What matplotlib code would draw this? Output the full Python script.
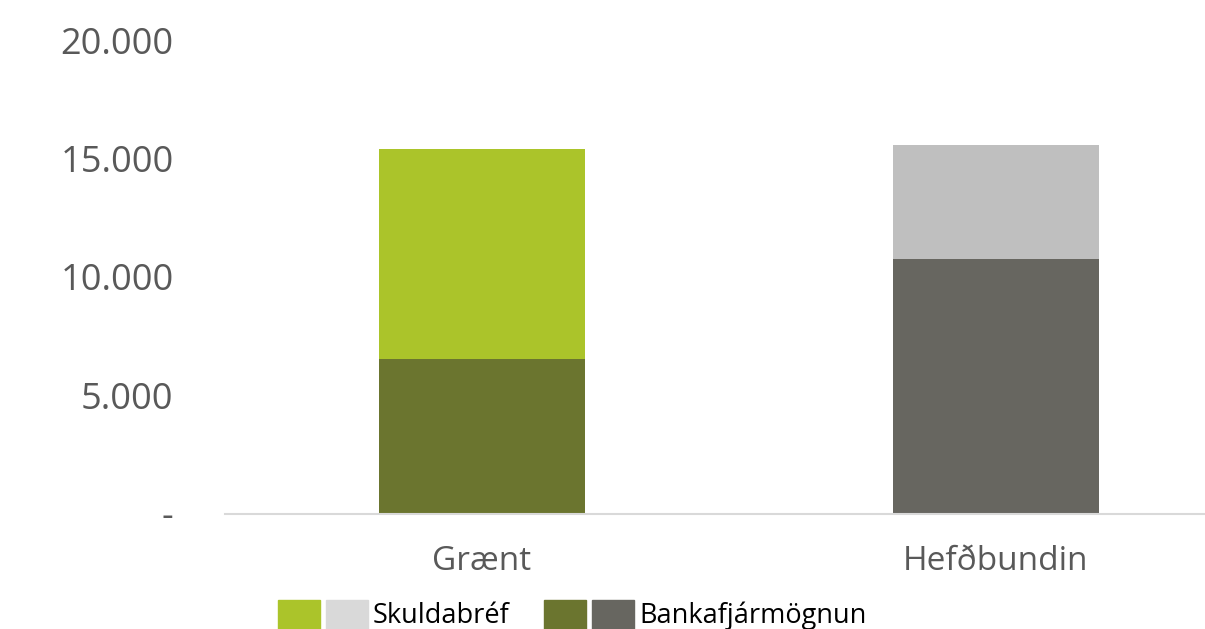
import matplotlib.pyplot as plt
from matplotlib.patches import Rectangle
from matplotlib.ticker import FuncFormatter

categories = ["Grænt", "Hefðbundin"]
bank = [6540, 10760]
bonds = [8860, 4810]

bank_colors = ["#6B752F", "#676660"]
bond_colors = ["#ABC42A", "#BFBFBF"]
legend_bond = ["#ABC42A", "#D9D9D9"]

plt.rcParams['font.family'] = ['Open Sans', 'DejaVu Sans']

W, H = 1205, 629
fig = plt.figure(figsize=(W / 100, H / 100), dpi=100)
ax = fig.add_axes([225 / W, (H - 514) / H, (1253 - 225) / W, (514 - 40) / H])

x = range(len(categories))
ax.bar(x, bank, width=0.4, color=bank_colors)
ax.bar(x, bonds, width=0.4, bottom=bank, color=bond_colors)

ax.set_xlim(-0.5, 1.5)
ax.set_ylim(0, 20000)
ax.set_yticks([0, 5000, 10000, 15000, 20000])


def fmt(v, pos):
    if v == 0:
        return "-"
    return f"{int(v):,}".replace(",", ".")


ax.yaxis.set_major_formatter(FuncFormatter(fmt))
ax.set_xticks(list(x))
ax.set_xticklabels(categories)
ax.tick_params(axis='y', length=0, labelsize=26, colors="#595959", pad=37)
ax.tick_params(axis='x', length=0, labelsize=24, colors="#595959", pad=22)
for s in ["top", "right", "left"]:
    ax.spines[s].set_visible(False)
ax.spines["bottom"].set_color("#D9D9D9")
ax.spines["bottom"].set_linewidth(1.5)

# legend: two swatches per entry
entries = [("Skuldabréf", legend_bond, 278), ("Bankafjármögnun", bank_colors, 544)]
for label, cols, x0 in entries:
    for i, c in enumerate(cols):
        fig.add_artist(Rectangle(((x0 + i * 48) / W, 0), 42 / W, 29 / H,
                                 transform=fig.transFigure, color=c))
    fig.text((x0 + 95) / W, 13 / H, label, fontsize=19.5, color="black",
             va="center", ha="left")

fig.savefig("out.png", dpi=100)
